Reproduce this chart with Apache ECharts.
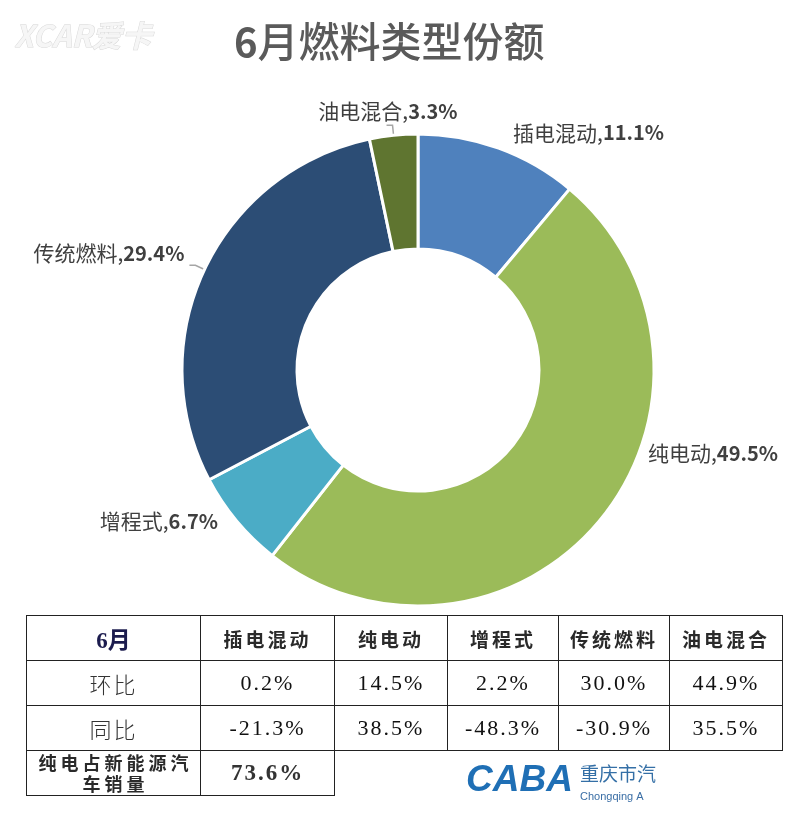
<!DOCTYPE html>
<html>
<head>
<meta charset="utf-8">
<script src="https://cdn.jsdelivr.net/npm/echarts@6/dist/echarts.min.js"></script>
<style>
  html, body { margin: 0; padding: 0; background: #fff; }
  #wrap { position: relative; width: 800px; height: 814px; }
  #chart { position: absolute; left: 0; top: 0; width: 800px; height: 814px; }
  #tbl {
    position: absolute; left: 26px; top: 615px;
    border-collapse: collapse; table-layout: fixed;
    font-family: "Liberation Serif", "Noto Sans CJK SC", serif;
    color: #111;
  }
  #tbl td {
    border: 1.5px solid #222; text-align: center; padding: 0;
    font-size: 22px; letter-spacing: 2px; height: 44px;
  }
  #tbl tr.head td { font-family: "Noto Sans CJK SC", sans-serif; font-weight: bold; font-size: 19px; color: #2a2a2a; letter-spacing: 3px; }
  #tbl tr.head td:first-child { font-family: "Liberation Serif", "Noto Sans CJK SC", serif; font-size: 23px; color: #1c1c4e; letter-spacing: 0; }
  #tbl td.rowname { font-family: "Noto Sans CJK SC", sans-serif; font-weight: 300; font-size: 22px; color: #333; }
  #tbl td.share { font-family: "Noto Sans CJK SC", sans-serif; font-weight: bold; font-size: 18px; line-height: 21px; color: #2a2a2a; letter-spacing: 4px; padding-left: 4px; }
  #tbl td.shareval { font-weight: bold; font-size: 23px; color: #333; }
  #tbl td.empty { border: none; }
</style>
</head>
<body>
<div id="wrap">
  <div id="chart"></div>
  <table id="tbl"></table>
</div>
<script>
// 饼图数据
const categories = ['插电混动', '纯电动', '增程式', '传统燃料', '油电混合'];
const shares = [11.1, 49.5, 6.7, 29.4, 3.3];
const colors = ['#4f81bd', '#9bbb59', '#4bacc6', '#2c4d75', '#5f7530'];

// 表格数据
const monthLabel = '6月';
const momLabel = '环比';
const yoyLabel = '同比';
const momValues = ['0.2%', '14.5%', '2.2%', '30.0%', '44.9%'];
const yoyValues = ['-21.3%', '38.5%', '-48.3%', '-30.9%', '35.5%'];
const bevShareLabel = '纯电占新能源汽车销量';
const bevShareValue = '73.6%';

const colWidths = [174, 134, 113, 111, 111, 113];

const buildTable = () => {
  const tbl = document.getElementById('tbl');
  let html = '<colgroup>' + colWidths.map(w => `<col style="width:${w}px">`).join('') + '</colgroup>';
  html += '<tr class="head"><td>' + monthLabel + '</td>' + categories.map(c => `<td>${c}</td>`).join('') + '</tr>';
  html += '<tr><td class="rowname">' + momLabel + '</td>' + momValues.map(v => `<td>${v}</td>`).join('') + '</tr>';
  html += '<tr><td class="rowname">' + yoyLabel + '</td>' + yoyValues.map(v => `<td>${v}</td>`).join('') + '</tr>';
  html += '<tr><td class="share">' + bevShareLabel + '</td><td class="shareval">' + bevShareValue + '</td>'
    + '<td class="empty" colspan="4"></td></tr>';
  tbl.innerHTML = html;
  tbl.style.width = colWidths.reduce((a, b) => a + b, 0) + 'px';
};

const myEchart = echarts.init(document.getElementById('chart'), null, { renderer: 'canvas' });

// 标签微调 (dx, dy)
const labelShift = [[0, -6], [28, -72], [0, -6], [0, -12], [76, -14]];

const renderChart = () => {
  const options = {
    animation: false,
    title: {
      text: '{a|6}{b|月燃料类型份额}',
      left: 229,
      top: 16,
      textStyle: {
        rich: {
          a: { fontFamily: 'Noto Sans CJK SC', fontSize: 40, fontWeight: 'bold', color: '#5a5a5a' },
          b: { fontFamily: 'Noto Sans CJK SC', fontSize: 41, fontWeight: 500, color: '#5a5a5a' }
        }
      }
    },
    graphic: [
      {
        type: 'text',
        left: 14,
        top: 20,
        style: {
          text: 'XCAR爱卡',
          fontFamily: 'Noto Sans CJK SC',
          fontSize: 30,
          fontWeight: 'bold',
          fontStyle: 'italic',
          fill: '#f6f6f6',
          stroke: '#d8d8d8',
          lineWidth: 1
        }
      },
      {
        type: 'text',
        left: 466,
        top: 762,
        style: {
          text: 'CABA',
          fontFamily: 'Liberation Sans',
          fontSize: 37,
          fontWeight: 'bold',
          fontStyle: 'italic',
          fill: '#1f6fb5'
        }
      },
      {
        type: 'text',
        left: 580,
        top: 764,
        style: {
          text: '重庆市汽',
          fontFamily: 'Noto Sans CJK SC',
          fontSize: 19,
          fill: '#1e5f9c',
          opacity: 0.9
        }
      },
      {
        type: 'text',
        left: 580,
        top: 791,
        style: {
          text: 'Chongqing A',
          fontFamily: 'Liberation Sans',
          fontSize: 11,
          fill: '#3a6ea5'
        }
      }
    ],
    series: [
      {
        type: 'pie',
        center: [418, 370],
        radius: [121, 236],
        startAngle: 90,
        clockwise: true,
        avoidLabelOverlap: false,
        itemStyle: {
          borderColor: '#fff',
          borderWidth: 3
        },
        label: {
          show: true,
          position: 'outside',
          formatter: (p) => '{n|' + p.name + ',}{v|' + p.value + '%}',
          rich: {
            n: { fontFamily: 'Noto Sans CJK SC', fontSize: 21, color: '#3f3f3f' },
            v: { fontFamily: 'Noto Sans CJK SC', fontSize: 20, fontWeight: 'bold', color: '#3f3f3f' }
          }
        },
        labelLine: {
          show: false,
          length: 10,
          length2: 6,
          lineStyle: { color: '#a6a6a6', width: 1.5 }
        },
        labelLayout: (params) => {
          const s = labelShift[params.dataIndex];
          return { dx: s[0], dy: s[1] };
        },
        data: categories.map((name, i) => ({
          name,
          value: shares[i],
          itemStyle: { color: colors[i] },
          labelLine: { show: i === 3 || i === 4 }
        }))
      }
    ]
  };
  myEchart.setOption(options);
};

buildTable();
renderChart();
</script>
</body>
</html>
